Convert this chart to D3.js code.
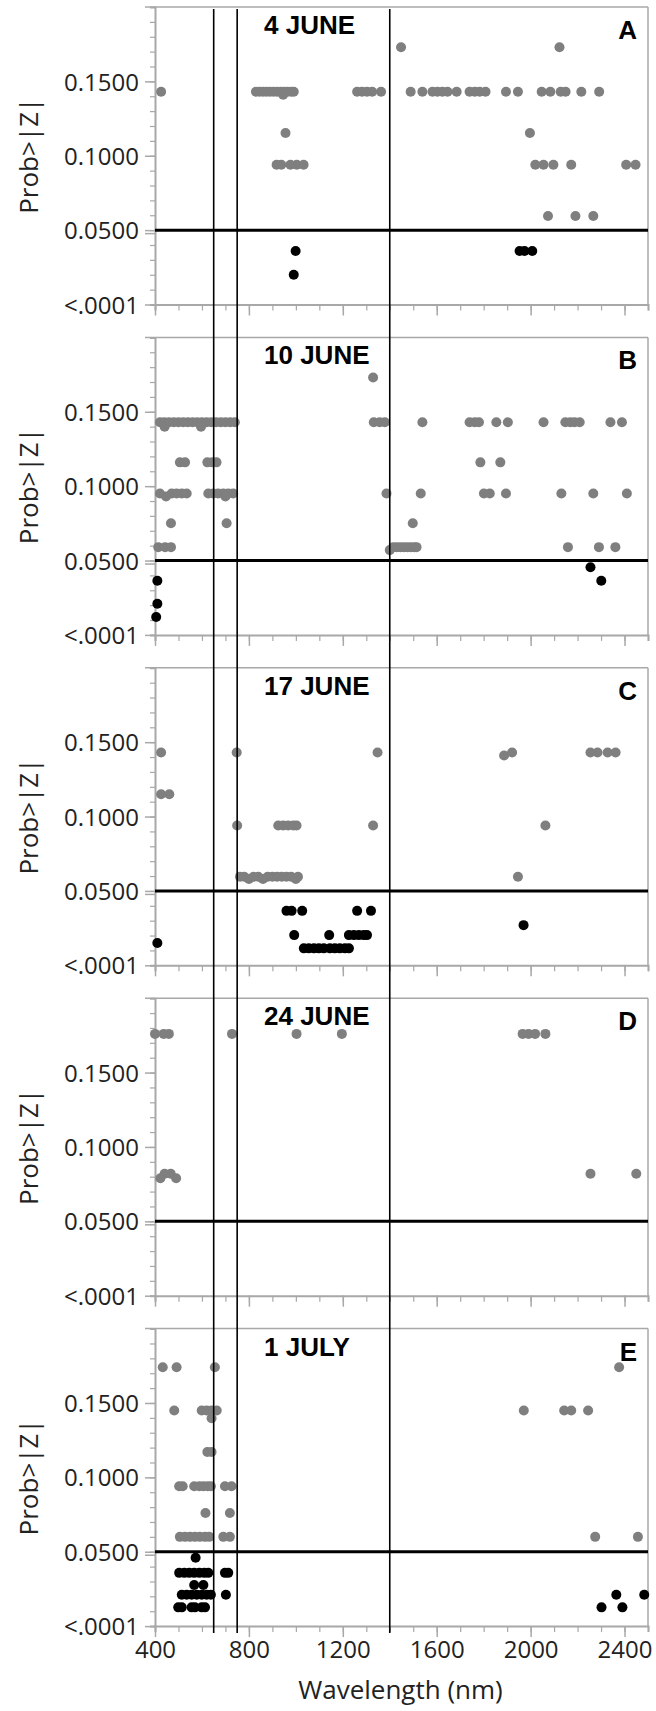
<!DOCTYPE html>
<html>
<head>
<meta charset="utf-8">
<script src="https://cdn.jsdelivr.net/npm/d3@7"></script>
<style>
  body { margin: 0; background: #fff; }
  .tickLabel { font-family: "Open Sans", "Noto Sans", sans-serif; font-size: 24px; fill: #222; }
  .axisTitle { font-family: "Open Sans", "Noto Sans", sans-serif; font-size: 26px; fill: #222; }
  .panelTitle { font-family: "Liberation Sans", Arial, sans-serif; font-size: 26px; font-weight: bold; fill: #000; }
</style>
</head>
<body>
<div id="chart"></div>
<script>

// each panel: rows of [Prob>|Z|, wavelengths (nm)]
var june4 = [
    [0.173, [1448, 2123]],
    [0.143, [426, 830, 845, 860, 875, 890, 905, 920, 935, 950, 965, 980, 991, 1261, 1282, 1303, 1325, 1363,
             1489, 1539, 1582, 1603, 1624, 1646, 1685, 1740, 1762, 1783, 1808, 1895, 1946, 2047, 2084,
             2128, 2149, 2216, 2292]],
    [0.141, [946]],
    [0.1153, [956, 1997]],
    [0.094, [918, 938, 977, 1004, 1033, 2020, 2055, 2097, 2173, 2407, 2447]],
    [0.0595, [2074, 2191, 2267]],
    [0.036, [999, 1953, 1974, 2007]],
    [0.020, [991]]
];

var june10 = [
    [0.173, [1329]],
    [0.143, [421, 440, 460, 480, 500, 520, 540, 560, 580, 600, 620, 640, 660, 680, 700, 720, 740,
             1332, 1357, 1379, 1539, 1740, 1762, 1780, 1854, 1903, 2055, 2148, 2169, 2187, 2209, 2340, 2389]],
    [0.140, [441, 596]],
    [0.116, [506, 528, 623, 644, 662, 1786, 1871]],
    [0.095, [421, 471, 492, 514, 535, 627, 648, 669, 691, 712, 733, 1386, 1532, 1801, 1826, 1895, 2131, 2267, 2410]],
    [0.093, [447, 700]],
    [0.075, [468, 705, 1498]],
    [0.059, [414, 443, 468, 1415, 1430, 1445, 1460, 1475, 1490, 1505, 1514, 2159, 2291, 2361]],
    [0.057, [1400]],
    [0.0455, [2255]],
    [0.0364, [410, 2301]],
    [0.021, [410]],
    [0.012, [405]]
];

var june17 = [
    [0.143, [426, 748, 1348, 1921, 2255, 2285, 2328, 2362]],
    [0.141, [1887]],
    [0.115, [426, 461]],
    [0.094, [750, 925, 946, 967, 989, 1003, 1329, 2063]],
    [0.0595, [762, 780, 820, 840, 880, 900, 920, 940, 960, 980, 1009, 1946]],
    [0.058, [800, 860, 1000]],
    [0.0366, [960, 982, 1027, 1261, 1320]],
    [0.027, [1970]],
    [0.0203, [993, 1142, 1226, 1247, 1268, 1289, 1303]],
    [0.015, [410]],
    [0.0114, [1034, 1055, 1077, 1098, 1119, 1145, 1166, 1187, 1209, 1226]]
];

var june24 = [
    [0.176, [400, 437, 459, 728, 1003, 1196, 1966, 1991, 2019, 2063]],
    [0.082, [441, 467, 2255, 2450]],
    [0.079, [423, 490]]
];

var july1 = [
    [0.174, [433, 492, 655, 2377]],
    [0.145, [482, 599, 620, 641, 663, 1971, 2143, 2173, 2245]],
    [0.1397, [641]],
    [0.117, [623, 641]],
    [0.094, [503, 518, 567, 589, 606, 624, 638, 698, 726]],
    [0.076, [615, 719]],
    [0.060, [506, 528, 549, 570, 591, 613, 631, 691, 719, 2275, 2457]],
    [0.046, [573]],
    [0.0358, [503, 525, 546, 567, 589, 610, 627, 698, 712]],
    [0.0276, [567, 606]],
    [0.0211, [514, 535, 556, 578, 599, 620, 638, 702, 2365, 2484]],
    [0.0126, [499, 514, 556, 570, 599, 613, 2302, 2391]]
];

var panelData = [june4, june10, june17, june24, july1];
var panelTitles = ["4 JUNE", "10 JUNE", "17 JUNE", "24 JUNE", "1 JULY"];
var panelLetters = ["A", "B", "C", "D", "E"];

var yTickValues = [0, 0.05, 0.10, 0.15];
var yTickLabels = ["<.0001", "0.0500", "0.1000", "0.1500"];
var xTickValues = [400, 800, 1200, 1600, 2000, 2400];
var bandLines = [650, 750, 1400];   // vertical reference lines (nm)
var alpha = 0.05;                   // horizontal significance line

var width = 656, height = 1711;
var left = 155, right = 648;
var firstTop = 7, pitch = 330.4, plotH = 297.5;
var axisGray = "#a8a8a8";

var svg = d3.select("#chart").append("svg")
    .attr("width", width)
    .attr("height", height);

var x = d3.scaleLinear().domain([400, 2500]).range([left, right]);

panelData.forEach(function (rows, i) {
    var top = firstTop + pitch * i;
    var bottom = top + plotH;
    var y = d3.scaleLinear().domain([0, 0.2]).range([bottom, top]);
    var g = svg.append("g");

    // frame: top + right border
    g.append("line").attr("x1", 145).attr("x2", right).attr("y1", top).attr("y2", top)
        .attr("stroke", axisGray).attr("stroke-width", 1.5);
    g.append("line").attr("x1", right).attr("x2", right).attr("y1", top).attr("y2", bottom)
        .attr("stroke", axisGray).attr("stroke-width", 1.5);

    // y axis
    var yAxis = d3.axisLeft(y)
        .tickValues(d3.range(0, 0.2, 0.01))
        .tickSize(5)
        .tickFormat("");
    g.append("g").attr("transform", "translate(" + left + ",0)").call(yAxis)
        .call(function (a) {
            a.select(".domain").attr("stroke", axisGray).attr("stroke-width", 2);
            a.selectAll(".tick line").attr("stroke", axisGray).attr("stroke-width", 1.2);
        });
    var yMajor = d3.axisLeft(y).tickValues(yTickValues).tickSize(10)
        .tickFormat(function (d, k) { return yTickLabels[k]; });
    g.append("g").attr("transform", "translate(" + left + ",0)").call(yMajor)
        .call(function (a) {
            a.select(".domain").remove();
            a.selectAll(".tick line").attr("stroke", axisGray).attr("stroke-width", 1.5);
            a.selectAll(".tick text").attr("class", "tickLabel").attr("x", -16).attr("dy", "0.36em")
                .attr("font-size", null).attr("font-family", null).attr("fill", null);
        });
    // second short tick at 0.05
    g.append("line").attr("x1", left - 10).attr("x2", left)
        .attr("y1", y(alpha) + 3.5).attr("y2", y(alpha) + 3.5)
        .attr("stroke", axisGray).attr("stroke-width", 1.5);

    // x axis
    var xMinor = d3.axisBottom(x).tickValues(d3.range(400, 2501, 100)).tickSize(6).tickFormat("");
    g.append("g").attr("transform", "translate(0," + bottom + ")").call(xMinor)
        .call(function (a) {
            a.select(".domain").attr("stroke", axisGray).attr("stroke-width", 2);
            a.selectAll(".tick line").attr("stroke", axisGray).attr("stroke-width", 1.2);
        });
    var xMajor = d3.axisBottom(x).tickValues(xTickValues).tickSize(11)
        .tickFormat(i == panelData.length - 1 ? d3.format("d") : "");
    g.append("g").attr("transform", "translate(0," + bottom + ")").call(xMajor)
        .call(function (a) {
            a.select(".domain").remove();
            a.selectAll(".tick line").attr("stroke", axisGray).attr("stroke-width", 1.5);
            a.selectAll(".tick text").attr("class", "tickLabel").attr("y", 15).attr("dy", "0.71em")
                .attr("font-size", null).attr("font-family", null).attr("fill", null);
        });

    // y title
    g.append("text").attr("class", "axisTitle")
        .attr("transform", "translate(38," + (top + plotH / 2) + ") rotate(-90)")
        .attr("text-anchor", "middle")
        .text("Prob>|Z|");

    // points
    var pts = [];
    rows.forEach(function (r) {
        r[1].forEach(function (nm) { pts.push({nm: nm, p: r[0]}); });
    });
    g.selectAll("circle").data(pts).enter().append("circle")
        .attr("cx", function (d) { return x(d.nm); })
        .attr("cy", function (d) { return y(d.p); })
        .attr("r", 5)
        .attr("fill", function (d) { return d.p < alpha ? "#000" : "#7f7f7f"; });

    // significance line
    g.append("line").attr("x1", left).attr("x2", right)
        .attr("y1", y(alpha)).attr("y2", y(alpha))
        .attr("stroke", "#000").attr("stroke-width", 3);

    // title + letter
    g.append("text").attr("class", "panelTitle")
        .attr("x", 264).attr("y", top + 27)
        .text(panelTitles[i]);
    g.append("text").attr("class", "panelTitle")
        .attr("x", 637).attr("y", top + 32).attr("text-anchor", "end")
        .text(panelLetters[i]);
});

// vertical band lines across all panels
svg.selectAll(".band").data(bandLines).enter().append("line")
    .attr("class", "band")
    .attr("x1", function (d) { return x(d); })
    .attr("x2", function (d) { return x(d); })
    .attr("y1", 9)
    .attr("y2", firstTop + pitch * 4 + plotH + 7)
    .attr("stroke", "#000")
    .attr("stroke-width", 1.6);

svg.append("text").attr("class", "axisTitle")
    .attr("x", (left + right) / 2 - 1)
    .attr("y", 1699)
    .attr("text-anchor", "middle")
    .text("Wavelength (nm)");

</script>
</body>
</html>
